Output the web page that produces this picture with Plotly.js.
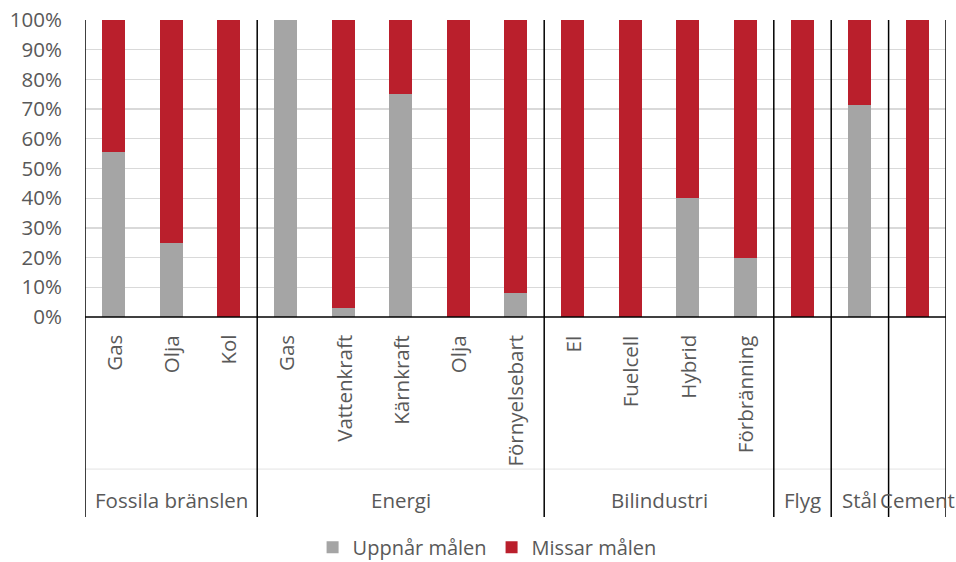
<!DOCTYPE html>
<html>
<head>
<meta charset="utf-8">
<script src="https://cdn.plot.ly/plotly-3.0.1.min.js"></script>
<style>html,body{margin:0;padding:0;background:#fff;}#chart{width:956px;height:562px;}</style>
</head>
<body>
<div id="chart"></div>
<script>
// Data
const groups = ["Fossila bränslen","Fossila bränslen","Fossila bränslen","Energi","Energi","Energi","Energi","Energi","Bilindustri","Bilindustri","Bilindustri","Bilindustri","Flyg","Stål","Cement"];
const subs = ["Gas","Olja","Kol","Gas","Vattenkraft","Kärnkraft","Olja","Förnyelsebart","El","Fuelcell","Hybrid","Förbränning","","",""];
const uppnar = [55.6, 25, 0, 100, 3, 75, 0, 8.2, 0, 0, 40, 20, 0, 71.4, 0];
const missar = [44.4, 75, 100, 0, 97, 25, 100, 91.8, 100, 100, 60, 80, 100, 28.6, 100];
const groupNames = ["Fossila bränslen","Energi","Bilindustri","Flyg","Stål","Cement"];
const yTicks = [0,10,20,30,40,50,60,70,80,90,100];

const keys = groups.map((g,i)=>g+"|"+subs[i]+"|"+i);
const FONT = "'Open Sans', sans-serif";
const TXT = "#595959";
const FS = 20.5;

const traces = [
  {type:"bar", name:"Uppnår målen", x:keys, y:uppnar, marker:{color:"#A5A5A5"}, hoverinfo:"skip"},
  {type:"bar", name:"Missar målen", x:keys, y:missar, marker:{color:"#BA1F2C"}, hoverinfo:"skip"}
];

const ann = [];
subs.forEach((s,i)=>{
  if(!s) return;
  ann.push({x:keys[i], xref:"x", y:-0.054, yref:"paper", text:s, textangle:-90,
    showarrow:false, xanchor:"center", yanchor:"top", font:{family:FONT,size:FS,color:TXT}});
});
const bounds=[-0.5];
groupNames.forEach(g=>{
  const idx = groups.map((x,i)=>x===g?i:-1).filter(i=>i>=0);
  const c = (idx[0]+idx[idx.length-1])/2;
  bounds.push(idx[idx.length-1]+0.5);
  ann.push({x:c, xref:"x", y:-0.616, yref:"paper", text:g, showarrow:false,
    xanchor:"center", yanchor:"middle", font:{family:FONT,size:FS,color:TXT}});
});
const shapes = [];
shapes.push({type:"line", xref:"x", yref:"paper", x0:-0.5, x1:14.5, y0:-0.512, y1:-0.512, line:{color:"#e3e3e3", width:1}});
bounds.forEach(b=>{
  shapes.push({type:"line", xref:"x", yref:"paper", x0:b, x1:b, y0:1.0, y1:-0.673, line:{color:"#000", width:1.5}});
});
shapes.push({type:"line", xref:"x", yref:"paper", x0:-0.5, x1:14.5, y0:0, y1:0, line:{color:"#000", width:1.5}});

const layout = {
  width:956, height:562,
  margin:{l:85, r:10, t:20, b:245, autoexpand:false},
  paper_bgcolor:"#fff", plot_bgcolor:"#fff",
  barmode:"stack", bargap:0.6,
  font:{family:FONT, color:TXT, size:FS},
  xaxis:{type:"category", range:[-0.5,14.5], showticklabels:false, showgrid:false, zeroline:false, showline:false, ticks:""},
  yaxis:{range:[0,100], tickvals:yTicks, ticktext:yTicks.map(v=>v+"%"), gridcolor:"#d9d9d9", gridwidth:1.3,
    zeroline:false, showline:false, ticks:"outside", ticklen:18, tickcolor:"rgba(0,0,0,0)",
    tickfont:{family:FONT,size:FS,color:TXT}},
  legend:{orientation:"h", traceorder:"normal", x:0.467, xanchor:"center", y:-0.775, yanchor:"middle", font:{family:FONT,size:20,color:TXT}},
  annotations:ann, shapes:shapes, showlegend:true
};
Plotly.newPlot("chart", traces, layout, {displayModeBar:false, staticPlot:true});
</script>
</body>
</html>
